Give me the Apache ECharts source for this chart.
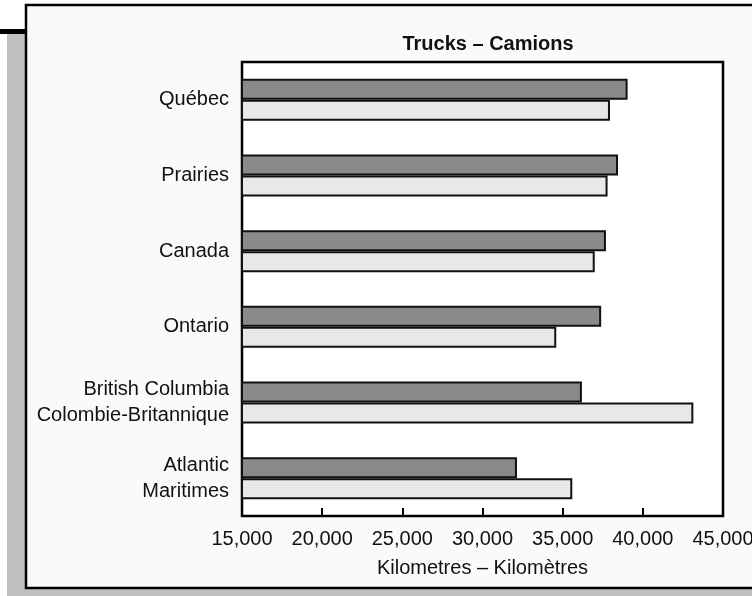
<!DOCTYPE html>
<html>
<head>
<meta charset="utf-8">
<script src="https://cdn.jsdelivr.net/npm/echarts@6/dist/echarts.min.js"></script>
<style>
  html, body { margin: 0; padding: 0; background: #fff; }
  #chart { width: 752px; height: 596px; }
</style>
</head>
<body>
<div id="chart"></div>
<script>
// regions, top to bottom
const regions = ['Québec', 'Prairies', 'Canada', 'Ontario', 'British Columbia\nColombie-Britannique', 'Atlantic\nMaritimes'];
// dark bars (upper bar of each pair)
const darkValues = [39050, 38450, 37700, 37400, 36200, 32150];
// light bars (lower bar of each pair)
const lightValues = [37950, 37800, 37000, 34600, 43150, 35600];
const xTicks = [15000, 20000, 25000, 30000, 35000, 40000, 45000];

const font = "'Liberation Sans', Arial, sans-serif";
const chart = echarts.init(document.getElementById('chart'));

const barStyle = (color) => ({ color: color, borderColor: '#111', borderWidth: 2 });

const option = {
    backgroundColor: '#fff',
    animation: false,
    title: {
        text: 'Trucks – Camions',
        left: 483,
        top: 29,
        textAlign: 'center',
        textStyle: { fontFamily: font, fontSize: 20, fontWeight: 'bold', color: '#111' }
    },
    // page decoration: shadow, black rule and framed panel
    graphic: [
        { type: 'rect', shape: { x: 7, y: 34, width: 760, height: 570 }, style: { fill: '#c0c0c0' }, z: -10 },
        { type: 'rect', shape: { x: 0, y: 29, width: 28, height: 5 }, style: { fill: '#000' }, z: -9 },
        { type: 'rect', shape: { x: 26, y: 5, width: 760, height: 583 }, style: { fill: '#fafafa', stroke: '#000', lineWidth: 2.5 }, z: -8 }
    ],
    grid: {
        left: 242, right: 29, top: 62, bottom: 80,
        outerBoundsMode: 'none',
        containLabel: false,
        show: true, backgroundColor: '#fff', borderColor: '#000', borderWidth: 2.5
    },
    xAxis: {
        type: 'value',
        min: xTicks[0],
        max: xTicks[xTicks.length - 1],
        interval: 5000,
        name: 'Kilometres – Kilomètres',
        nameLocation: 'middle',
        nameGap: 42,
        nameTextStyle: { fontFamily: font, fontSize: 20, color: '#111' },
        axisLine: { show: false },
        axisTick: { show: true, inside: true, length: 8, lineStyle: { color: '#000', width: 2 } },
        splitLine: { show: false },
        axisLabel: {
            margin: 13,
            fontFamily: font, fontSize: 20, color: '#111',
            showMinLabel: true, showMaxLabel: true,
            formatter: v => v.toLocaleString('en-US')
        }
    },
    yAxis: {
        type: 'category',
        data: regions,
        inverse: true,
        axisLine: { show: false },
        axisTick: { show: false },
        axisLabel: { margin: 13, fontFamily: font, fontSize: 20, lineHeight: 26, color: '#111', align: 'right' }
    },
    series: [
        { type: 'bar', data: darkValues, barWidth: 21, barGap: '0%', itemStyle: barStyle('#8a8a8a') },
        { type: 'bar', data: lightValues, barWidth: 21, barGap: '0%', itemStyle: barStyle('#e8e8e8') }
    ]
};
chart.setOption(option);
</script>
</body>
</html>
